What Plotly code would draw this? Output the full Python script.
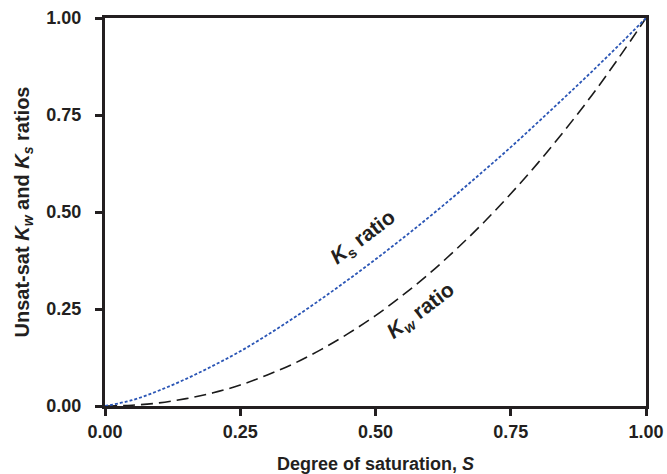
import plotly.graph_objects as go

S = [0.00, 0.05, 0.10, 0.15, 0.20, 0.25, 0.30, 0.35, 0.40, 0.45, 0.50,
     0.55, 0.60, 0.65, 0.70, 0.75, 0.80, 0.85, 0.90, 0.95, 1.00]
Ks_ratio = [0.000, 0.015, 0.040, 0.070, 0.104, 0.141, 0.183, 0.228, 0.276, 0.326, 0.378,
            0.432, 0.488, 0.546, 0.606, 0.667, 0.731, 0.796, 0.862, 0.930, 1.000]
Kw_ratio = [0.000, 0.002, 0.008, 0.019, 0.034, 0.054, 0.080, 0.110, 0.146, 0.187, 0.233,
            0.285, 0.342, 0.405, 0.473, 0.547, 0.626, 0.711, 0.801, 0.898, 1.000]
tick_vals = [0.00, 0.25, 0.50, 0.75, 1.00]

ink = "#231f20"
fam = "Liberation Sans, Arial, sans-serif"

fig = go.Figure()
fig.add_trace(go.Scatter(x=S, y=Kw_ratio, mode="lines", line_shape="spline",
                         line=dict(color="#1a1a1a", width=1.6, dash="12px,6px"),
                         name="Kw ratio", showlegend=False))
fig.add_trace(go.Scatter(x=S, y=Ks_ratio, mode="lines", line_shape="spline",
                         line=dict(color="#2a55b5", width=1.8, dash="3px,2px"),
                         name="Ks ratio", showlegend=False))

fig.add_annotation(x=0.477, y=0.433, text="<b><i>K</i><sub>s</sub> ratio</b>",
                   showarrow=False, textangle=-37,
                   font=dict(size=21, color=ink, family=fam))
fig.add_annotation(x=0.585, y=0.245, text="<b><i>K<sub>w</sub></i> ratio</b>",
                   showarrow=False, textangle=-37,
                   font=dict(size=21, color=ink, family=fam))

axis_common = dict(range=[0, 1], tickvals=tick_vals, tickformat=".2f",
                   showgrid=False, zeroline=False, showline=True, linewidth=3,
                   linecolor=ink, mirror=True, ticks="outside", ticklen=7,
                   tickwidth=2.5, tickcolor=ink,
                   automargin=False,
                   tickfont=dict(family=fam, size=18, color=ink, weight="bold"))

fig.update_xaxes(**axis_common, ticklabelstandoff=0,
                 title=dict(text="<b>Degree of saturation, <i>S</i></b>", standoff=20,
                            font=dict(family=fam, size=18, color=ink)))
fig.update_yaxes(**axis_common, ticklabelstandoff=10,
                 title=dict(text="<b>Unsat-sat <i>K<sub>w</sub></i> and <i>K<sub>s</sub></i> ratios</b>",
                            standoff=12,
                            font=dict(family=fam, size=20, color=ink)))

fig.update_layout(width=667, height=474, margin=dict(l=105, r=21, t=18, b=68),
                  paper_bgcolor="white", plot_bgcolor="white",
                  font=dict(family=fam, size=16, color=ink))

fig.write_html("out.html")
